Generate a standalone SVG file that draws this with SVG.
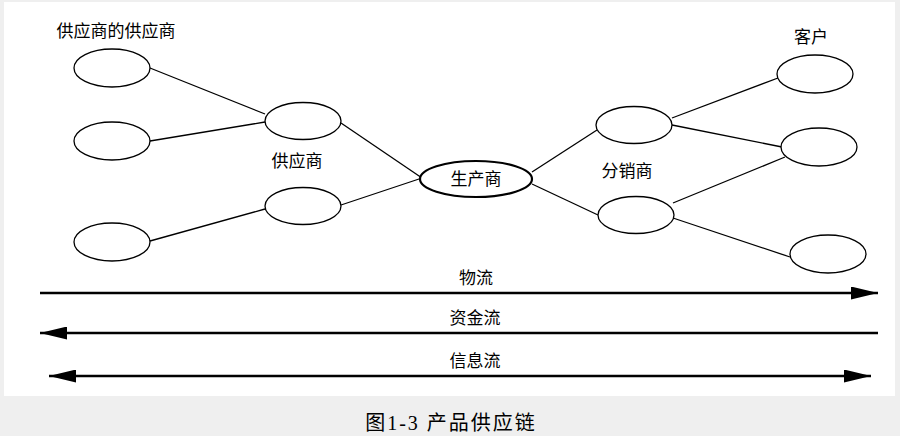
<svg xmlns="http://www.w3.org/2000/svg" width="900" height="436" viewBox="0 0 900 436">
<defs>
<style>
.n{fill:#fff;stroke:#000;stroke-width:1.3}
.p{fill:#fff;stroke:#000;stroke-width:2.2}
.t{font-family:"Liberation Serif","Noto Sans CJK SC",serif;font-size:17px;fill:#000;text-anchor:middle;dominant-baseline:central}
.c line{stroke:#000;stroke-width:1.3}
.f{stroke:#000;stroke-width:2.6}
</style>
<marker id="ah" viewBox="0 0 27 13" refX="27" refY="6.5" markerWidth="27" markerHeight="13" markerUnits="userSpaceOnUse" orient="auto-start-reverse">
<path d="M0,0 L27,6.5 L0,13 Z" fill="#000"/>
</marker>
</defs>
<rect x="0" y="0" width="900" height="436" fill="#efefef"/>
<rect x="4" y="2" width="891" height="394" fill="#fff"/>
<g id="connectors" class="c">
<line x1="150" y1="68" x2="265" y2="114"/>
<line x1="150" y1="141" x2="265" y2="122"/>
<line x1="150" y1="241" x2="265" y2="209"/>
<line x1="341" y1="123" x2="422" y2="178"/>
<line x1="341" y1="205" x2="422" y2="178"/>
<line x1="532" y1="172" x2="597" y2="130"/>
<line x1="532" y1="184" x2="598" y2="215"/>
<line x1="672" y1="118" x2="778" y2="78"/>
<line x1="672" y1="125" x2="782" y2="147"/>
<line x1="673" y1="203" x2="785" y2="157"/>
<line x1="673" y1="218" x2="790" y2="257"/>
</g>
<g id="ss1"><ellipse class="n" cx="112" cy="68" rx="38" ry="19"/></g>
<g id="ss2"><ellipse class="n" cx="112" cy="141" rx="38" ry="19"/></g>
<g id="ss3"><ellipse class="n" cx="112" cy="242" rx="38" ry="19"/></g>
<g id="s1"><ellipse class="n" cx="303" cy="121" rx="38" ry="18.5"/></g>
<g id="s2"><ellipse class="n" cx="303" cy="206" rx="38" ry="18.5"/></g>
<g id="producer"><ellipse class="p" cx="476" cy="179" rx="56" ry="18"/><text class="t" x="476" y="179">生产商</text></g>
<g id="d1"><ellipse class="n" cx="634" cy="125" rx="38" ry="18.5"/></g>
<g id="d2"><ellipse class="n" cx="636" cy="215" rx="38" ry="18.5"/></g>
<g id="c1"><ellipse class="n" cx="815" cy="74" rx="38" ry="19"/></g>
<g id="c2"><ellipse class="n" cx="819" cy="147" rx="38" ry="19"/></g>
<g id="c3"><ellipse class="n" cx="828" cy="254" rx="38" ry="19"/></g>
<g id="labels">
<text class="t" x="116" y="31">供应商的供应商</text>
<text class="t" x="297" y="161">供应商</text>
<text class="t" x="627" y="171">分销商</text>
<text class="t" x="811" y="37">客户</text>
</g>
<g id="flows">
<line class="f" x1="40" y1="293" x2="878" y2="293" marker-end="url(#ah)"/>
<text class="t" x="476" y="278">物流</text>
<line class="f" x1="878" y1="333" x2="40" y2="333" marker-end="url(#ah)"/>
<text class="t" x="475" y="318">资金流</text>
<line class="f" x1="49" y1="376" x2="871" y2="376" marker-start="url(#ah)" marker-end="url(#ah)"/>
<text class="t" x="475" y="361">信息流</text>
</g>
<text x="451" y="423" font-family="Liberation Serif,'Noto Sans CJK SC',serif" font-size="20" letter-spacing="2" text-anchor="middle" dominant-baseline="central" fill="#000">图1-3 产品供应链</text>
</svg>
